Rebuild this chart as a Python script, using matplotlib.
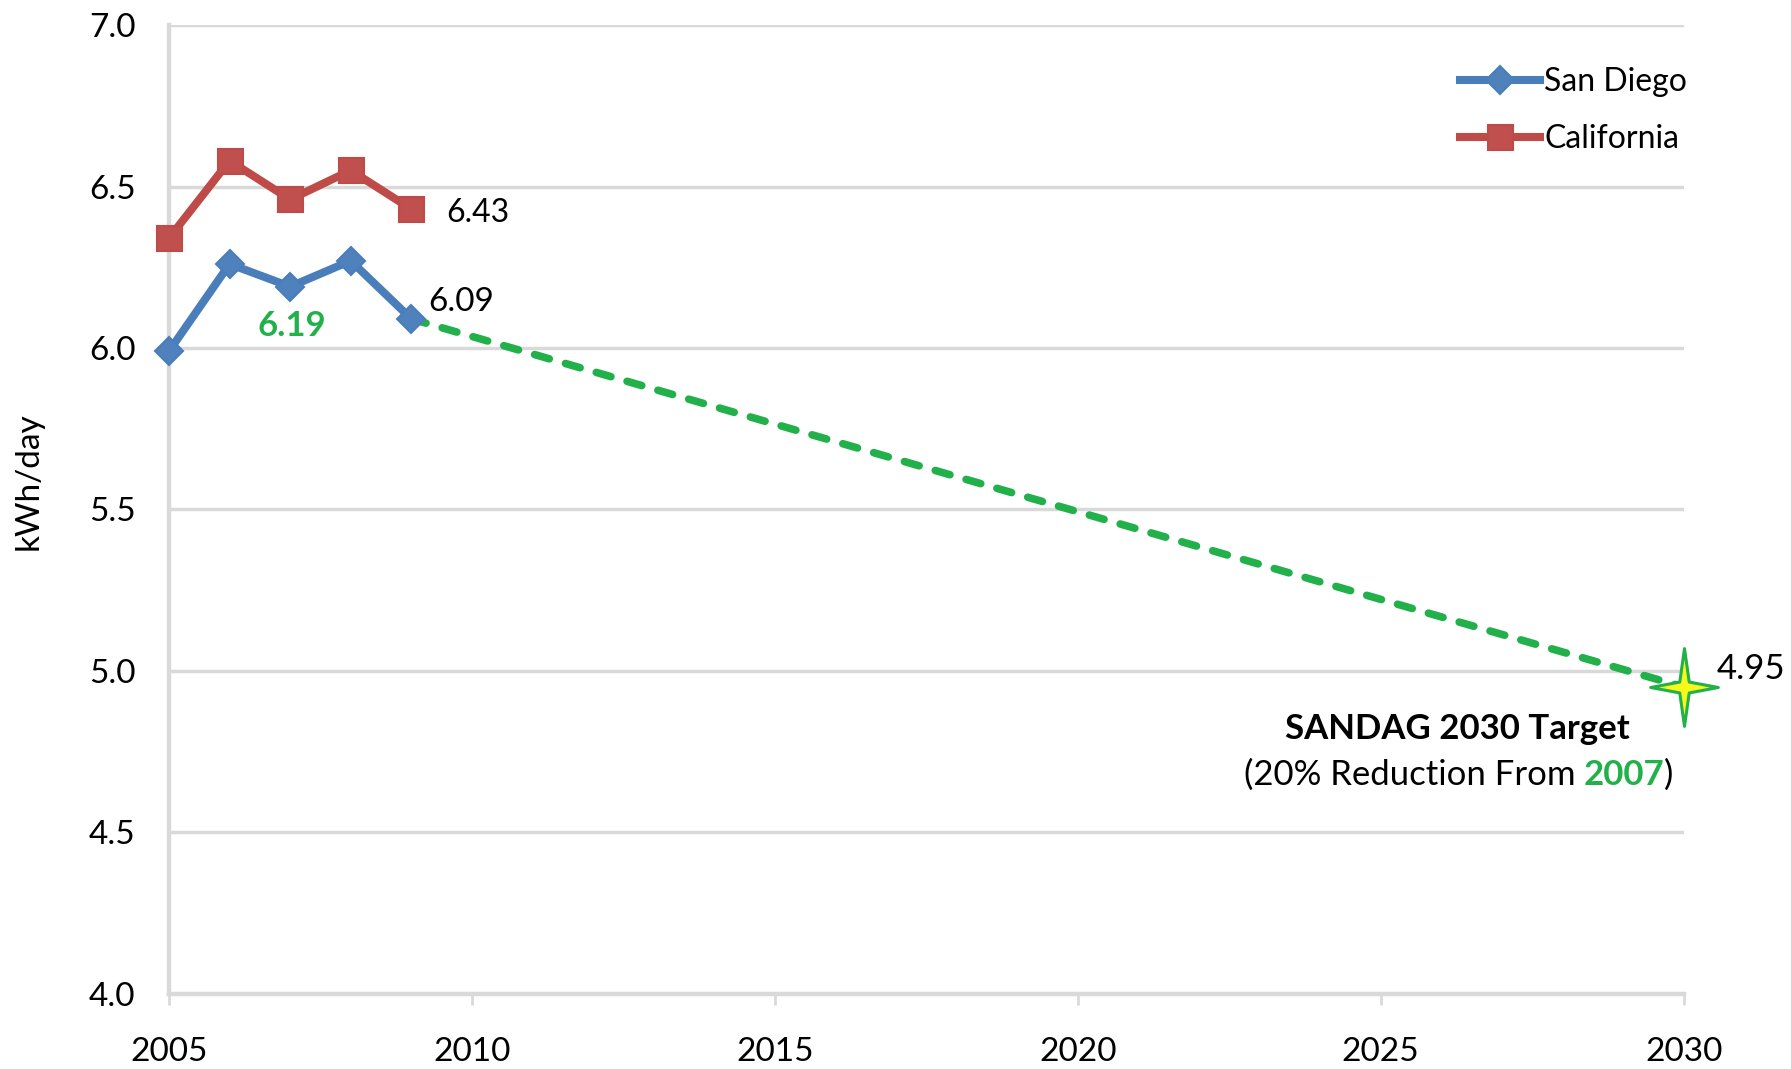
import matplotlib
matplotlib.use('Agg')
import matplotlib.pyplot as plt
from matplotlib.path import Path

# ---- data ----
years = [2005, 2006, 2007, 2008, 2009]
san_diego = [5.99, 6.26, 6.19, 6.27, 6.09]
california = [6.34, 6.58, 6.46, 6.55, 6.43]
target_years = [2009, 2030]
target_values = [6.09, 4.95]
x_ticks = [2005, 2010, 2015, 2020, 2025, 2030]
y_ticks = [4.0, 4.5, 5.0, 5.5, 6.0, 6.5, 7.0]

plt.rcParams['font.family'] = ['Lato', 'DejaVu Sans']

BLUE_LINE = '#4A7EBB'
BLUE_FILL = '#4F81BD'
RED_LINE = '#BE4B48'
RED_FILL = '#C0504D'
GREEN = '#22B04B'
GRID = '#D9D9D9'

fig = plt.figure(figsize=(17.91, 10.69), dpi=100)
ax = fig.add_axes([0.09436, 0.07043, 0.84567, 0.9061])

# four-pointed star marker
w = 0.14
sx = 0.87
verts = [(0, 1), (w * sx, w), (1 * sx, 0), (w * sx, -w), (0, -1),
         (-w * sx, -w), (-1 * sx, 0), (-w * sx, w), (0, 1)]
codes = [Path.MOVETO] + [Path.LINETO] * 7 + [Path.CLOSEPOLY]
star = Path(verts, codes)

ax.plot(target_years, target_values, color=GREEN, lw=5.5,
        ls=(0, (2.0, 2.2)), dash_capstyle='round', zorder=3)
ax.plot(years, san_diego, color=BLUE_LINE, lw=5.8, marker='D', ms=14,
        mfc=BLUE_FILL, mec=BLUE_LINE, mew=1.5, label='San Diego',
        zorder=4, clip_on=False, solid_joinstyle='round')
ax.plot(years, california, color=RED_LINE, lw=5.8, marker='s', ms=18,
        mfc=RED_FILL, mec=RED_LINE, mew=1.5, label='California',
        zorder=4, clip_on=False, solid_joinstyle='round')
ax.plot([target_years[-1]], [target_values[-1]], marker=star, ms=56,
        mfc='#F8F81C', mec=GREEN, mew=2.2, ls='none', zorder=5,
        clip_on=False)

ax.set_xlim(2005, 2030)
ax.set_ylim(4.0, 7.0)
ax.set_xticks(x_ticks)
ax.set_xticklabels([str(v) for v in x_ticks])
ax.set_yticks(y_ticks)
ax.set_yticklabels([f'{v:.1f}' for v in y_ticks])
ax.tick_params(axis='y', length=0, pad=24, labelsize=24, labelcolor='black')
ax.tick_params(axis='x', length=8, width=2, color=GRID, direction='out',
               pad=23, labelsize=24, labelcolor='black')
ax.grid(axis='y', color=GRID, lw=2.5)
ax.set_axisbelow(True)
for s in ['top', 'right']:
    ax.spines[s].set_visible(False)
for s in ['left', 'bottom']:
    ax.spines[s].set_color(GRID)
    ax.spines[s].set_linewidth(3.2)

fig.text(0.016, 0.55, 'kWh/day', rotation=90, ha='center', va='center',
         fontsize=24)

# value labels
ax.annotate(f'{california[-1]:.2f}', xy=(years[-1], california[-1]),
            xytext=(25, -3), textcoords='offset points', ha='left',
            va='center', fontsize=23)
ax.annotate(f'{san_diego[-1]:.2f}', xy=(years[-1], san_diego[-1]),
            xytext=(12, 12), textcoords='offset points', ha='left',
            va='center', fontsize=24)
ax.annotate(f'{san_diego[2]:.2f}', xy=(years[2], san_diego[2]),
            xytext=(1, -28), textcoords='offset points', ha='center',
            va='center', fontsize=25, fontweight='bold', color=GREEN)
ax.annotate(f'{target_values[-1]:.2f}', xy=(target_years[-1], target_values[-1]),
            xytext=(24, 13), textcoords='offset points', ha='left',
            va='center', fontsize=25)

ax.annotate('SANDAG 2030 Target', xy=(target_years[-1], target_values[-1]),
            xytext=(-163, -30), textcoords='offset points', ha='center',
            va='center', fontsize=25, fontweight='bold', annotation_clip=False)

t1 = ax.annotate('(20% Reduction From', xy=(target_years[-1], target_values[-1]),
                 xytext=(-318, -63), textcoords='offset points', ha='left',
                 va='center', fontsize=25, annotation_clip=False)
t2 = ax.annotate('2007', xy=(1, 0), xycoords=t1, xytext=(6, 0),
                 textcoords='offset points', ha='left', va='bottom',
                 fontsize=25, fontweight='bold', color=GREEN)
t3 = ax.annotate(')', xy=(1, 0), xycoords=t2, xytext=(0, 0),
                 textcoords='offset points', ha='left', va='bottom',
                 fontsize=25)

# center the composite line under the title
fig.canvas.draw()
r = fig.canvas.get_renderer()
b1 = t1.get_window_extent(r)
b3 = t3.get_window_extent(r)
total = b3.x1 - b1.x0
target_center_px = 1277 * 1791 / 1568
shift_px = target_center_px - (b1.x0 + total / 2)
x_off, y_off = t1.xyann
t1.xyann = (x_off + shift_px * 72 / fig.dpi, y_off)

leg = ax.legend(loc='upper right', bbox_to_anchor=(0.949, 0.949),
                bbox_transform=fig.transFigure, frameon=False, fontsize=23,
                handlelength=2.5, handletextpad=0.12, labelspacing=0.85,
                borderaxespad=0, numpoints=1)

fig.savefig('out.png', dpi=100)
